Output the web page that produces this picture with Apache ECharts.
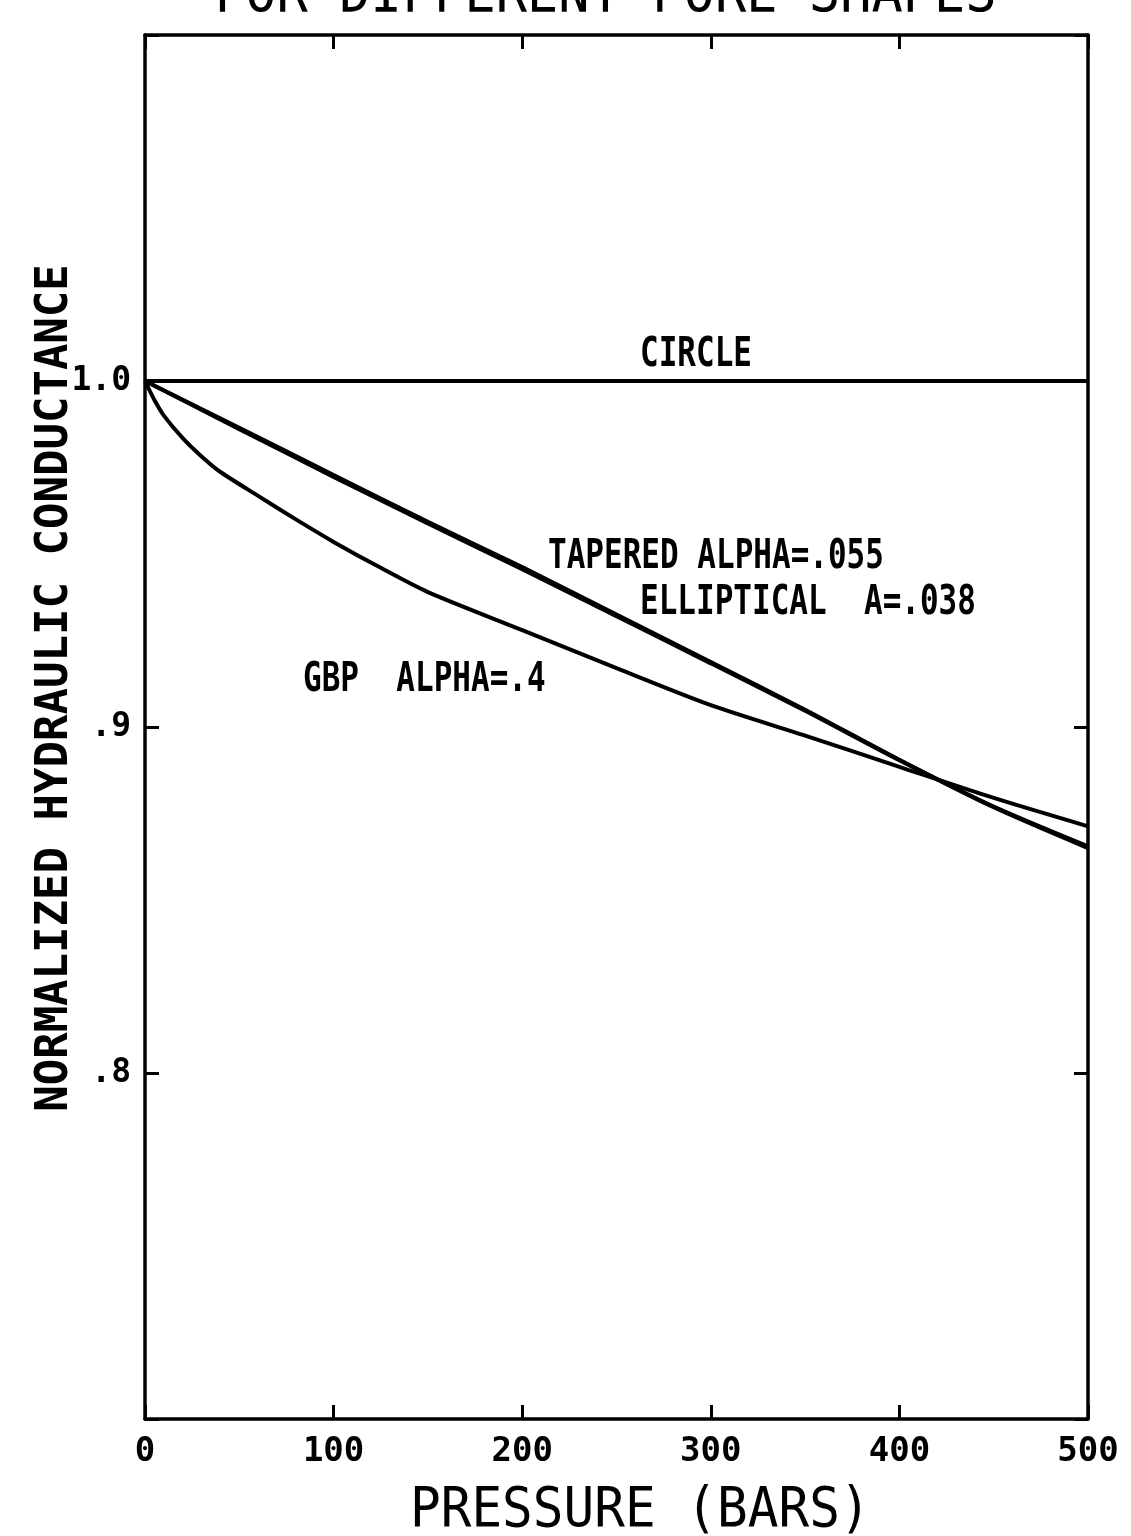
<!DOCTYPE html>
<html><head><meta charset="utf-8">
<script src="https://cdn.jsdelivr.net/npm/echarts@6/dist/echarts.min.js"></script>
<style>html,body{margin:0;padding:0;background:#fff}#c{width:1131px;height:1536px}</style>
</head><body><div id="c"></div>
<script>
// ---- data ----
const circleP = [0, 500];
const circleK = [1.0, 1.0];

const taperedP = [0, 50, 100, 150, 200, 250, 300, 350, 400, 450, 500];
const taperedK = [1.0, 0.9865, 0.9728, 0.9593, 0.9462, 0.9325, 0.9188, 0.9050, 0.8905, 0.8768, 0.8650];

const ellipticalP = [0, 50, 100, 150, 200, 250, 300, 350, 400, 450, 500];
const ellipticalK = [1.0, 0.9861, 0.9723, 0.9588, 0.9456, 0.9320, 0.9184, 0.9047, 0.8904, 0.8770, 0.8655];

const gbpP = [0, 5, 10, 20, 30, 40, 60, 80, 100, 125, 150, 200, 250, 300, 350, 400, 450, 500];
const gbpK = [1.0, 0.9945, 0.9900, 0.9835, 0.9782, 0.9737, 0.9668, 0.9600, 0.9535, 0.9460, 0.9390, 0.9280, 0.9170, 0.9063, 0.8975, 0.8885, 0.8795, 0.8713];

const xTickValues = [0, 100, 200, 300, 400, 500];
const yTickValues = [0.8, 0.9, 1.0];
const yTickLabels = ['.8', '.9', '1.0'];

const titleText = 'FOR DIFFERENT PORE SHAPES';
const xName = 'PRESSURE (BARS)';
const yName = 'NORMALIZED HYDRAULIC CONDUCTANCE';
const labelCircle = 'CIRCLE';
const labelTapered = 'TAPERED ALPHA=.055';
const labelElliptical = 'ELLIPTICAL  A=.038';
const labelGbp = 'GBP  ALPHA=.4';

// ---- chart ----
const pairs = (p, k) => p.map((v, i) => [v, k[i]]);
const MONO = '"DejaVu Sans Mono", monospace';
const axisLineStyle = { color: '#000', width: 3.5 };
const tickStyle = { show: true, inside: true, length: 14, lineStyle: { color: '#000', width: 3 } };

function xAxisBase(pos, showLabel) {
  return {
    type: 'value', min: 0, max: 500, interval: 100, position: pos,
    axisLine: { show: true, onZero: false, lineStyle: axisLineStyle },
    axisTick: tickStyle,
    axisLabel: {
      show: showLabel, color: '#000', fontFamily: MONO, fontWeight: 'bold', fontSize: 34, margin: 16,
      formatter: v => xTickValues.includes(v) ? String(v) : ''
    },
    splitLine: { show: false }
  };
}
function yAxisBase(pos, showLabel) {
  return {
    type: 'value', min: 0.7, max: 1.1, interval: 0.1, position: pos,
    axisLine: { show: true, onZero: false, lineStyle: axisLineStyle },
    axisTick: tickStyle,
    axisLabel: {
      show: showLabel, color: '#000', fontFamily: MONO, fontWeight: 'bold', fontSize: 33, margin: 14,
      formatter: v => {
        const r = Math.round(v * 10) / 10;
        const i = yTickValues.findIndex(t => Math.abs(t - r) < 1e-9);
        return i >= 0 ? yTickLabels[i] : '';
      }
    },
    splitLine: { show: false }
  };
}
function lineSeries(name, data) {
  return {
    name, type: 'line', data, xAxisIndex: 0, yAxisIndex: 0,
    showSymbol: false, smooth: 0.25,
    lineStyle: { color: '#000', width: 4 }, animation: false, z: 3
  };
}
function annot(text, x, y, size, sy, weight) {
  return {
    type: 'text', x, y, scaleY: sy, z: 10,
    style: { text, fill: '#000', font: (weight || 'bold') + ' ' + size + 'px ' + MONO, textVerticalAlign: 'top', textAlign: 'left' }
  };
}

const chart = echarts.init(document.getElementById('c'), null, { renderer: 'canvas' });
chart.setOption({
  backgroundColor: '#fff',
  animation: false,
  grid: { left: 145, top: 35, width: 943, height: 1384, containLabel: false },
  xAxis: [xAxisBase('bottom', true), xAxisBase('top', false)],
  yAxis: [yAxisBase('left', true), yAxisBase('right', false)],
  series: [
    lineSeries('CIRCLE', pairs(circleP, circleK)),
    lineSeries('TAPERED', pairs(taperedP, taperedK)),
    lineSeries('ELLIPTICAL', pairs(ellipticalP, ellipticalK)),
    lineSeries('GBP', pairs(gbpP, gbpK))
  ],
  graphic: [
    annot(titleText, 214, -31, 52, 1.1, 'normal'),
    annot(labelCircle, 640, 335, 31, 1.33),
    annot(labelTapered, 548, 537, 31, 1.33),
    annot(labelElliptical, 640, 583, 31, 1.33),
    annot(labelGbp, 303, 660, 31, 1.33),
    annot(xName, 410, 1484, 51, 1.08, 'normal'),
    {
      type: 'text', x: 56, y: 688, rotation: Math.PI / 2, z: 10,
      style: { text: yName, fill: '#000', font: 'bold 44px ' + MONO, textAlign: 'center', textVerticalAlign: 'middle' }
    }
  ]
});
</script>
</body></html>
